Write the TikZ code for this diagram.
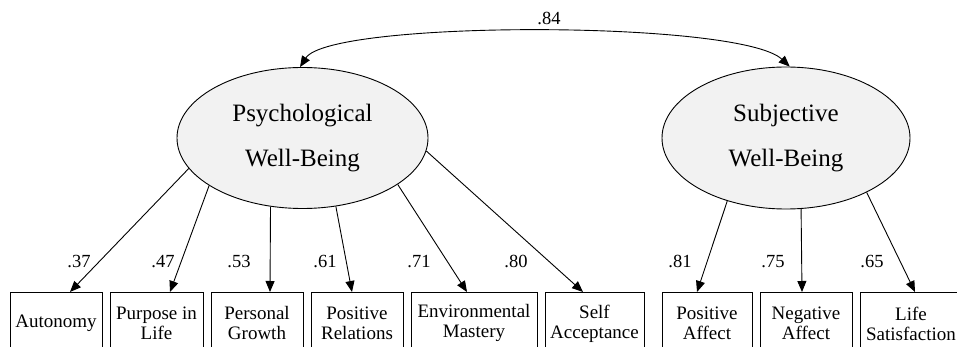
\documentclass[tikz,border=0pt]{standalone}
\usepackage{fontspec}
\setmainfont{Liberation Serif}
\usetikzlibrary{shapes.geometric,arrows.meta,calc}
\tikzset{
  latent/.style={ellipse, draw, line width=0.9pt, fill=gray!10, inner sep=0pt,
    minimum width=251pt, minimum height=141pt, align=center,
    font=\fontsize{25}{45}\selectfont},
  obs/.style={rectangle, draw, line width=0.9pt, inner sep=0pt, anchor=north,
    minimum height=62pt, align=center, font=\fontsize{19}{20}\selectfont},
  coef/.style={anchor=base, inner sep=0pt, font=\fontsize{18.5}{20}\selectfont},
  arr/.style={line width=0.9pt, -{Triangle[length=11pt,width=9pt]}},
  darr/.style={line width=0.9pt, {Triangle[length=11pt,width=9pt]}-{Triangle[length=11pt,width=9pt]}}
}
\begin{document}
\begin{tikzpicture}[x=1pt,y=-1pt]
\useasboundingbox (0,0) rectangle (957,347);
\clip (0,0) rectangle (957,347);
\fill[white] (0,0) rectangle (957,347);

\node[latent] (pwb) at (302.5,138) {Psychological\\Well-Being};
\node[latent, minimum width=248pt, minimum height=142pt] (swb) at (786,138) {Subjective\\Well-Being};

\node[obs, minimum width=92pt]  (b1) at (56,292)    {Autonomy};
\node[obs, minimum width=93pt]  (b2) at (156.5,292) {Purpose in\\Life};
\node[obs, minimum width=92pt]  (b3) at (257,292)   {Personal\\Growth};
\node[obs, minimum width=92pt]  (b4) at (357,292)   {Positive\\Relations};
\node[obs, minimum width=126pt] (b5) at (474,292)   {Environmental\\Mastery};
\node[obs, minimum width=99pt]  (b6) at (594.5,292) {Self\\Acceptance};
\node[obs, minimum width=90pt]  (b7) at (707,292)   {Positive\\Affect};
\node[obs, minimum width=92pt]  (b8) at (806,292)   {Negative\\Affect};
\node[obs, minimum width=102pt] (b9) at (911,292)   {Life\\Satisfaction};

\draw[arr] (pwb.195.8) -- ($(b1.north)+(14,0)$);
\draw[arr] (pwb.207.9) -- ($(b2.north)+(13.5,0)$);
\draw[arr] (pwb.245.4) -- ($(b3.north)+(13,0)$);
\draw[arr] (pwb.296.2) -- ($(b4.north)+(-5,0)$);
\draw[arr] (pwb.334.9) -- ($(b5.north)+(-7,0)$);
\draw[arr] (pwb.354.5) -- ($(b6.north)+(-11.5,0)$);
\draw[arr] (swb.227.3) -- ($(b7.north)+(-10,0)$);
\draw[arr] (swb.282.7) -- ($(b8.north)+(-4,0)$);
\draw[arr] (swb.326.1) -- ($(b9.north)+(4,0)$);

\draw[darr] (pwb.92) .. controls (330,20) and (740,20) .. (swb.87);

\node[coef] (c0) at (549,25)  {.84};
\node[coef] (c1) at (79,267)  {.37};
\node[coef] (c2) at (163,267) {.47};
\node[coef] (c3) at (239,267) {.53};
\node[coef] (c4) at (325,267) {.61};
\node[coef] (c5) at (419,267) {.71};
\node[coef] (c6) at (516,267) {.80};
\node[coef] (c7) at (680,267) {.81};
\node[coef] (c8) at (773,267) {.75};
\node[coef] (c9) at (872,267) {.65};
\end{tikzpicture}
\end{document}
